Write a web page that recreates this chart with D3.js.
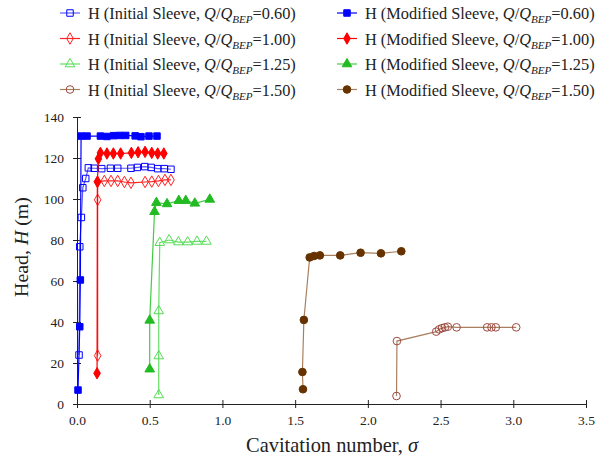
<!DOCTYPE html>
<html>
<head>
<meta charset="utf-8">
<script src="https://cdn.jsdelivr.net/npm/d3@7"></script>
<style>
  body { margin: 0; background: #fff; }
</style>
</head>
<body>
<div id="chart"></div>
<script>
// data (sigma, head in m)
var blueInitSigma = [0.014, 0.019, 0.030, 0.040, 0.060, 0.078, 0.118, 0.170, 0.230, 0.280, 0.371, 0.415, 0.466, 0.510, 0.555, 0.600, 0.646]
var blueInitH     = [23.9, 76.7, 91.0, 105.5, 110.0, 115.2, 115.0, 114.8, 115.0, 115.0, 115.0, 115.4, 115.8, 115.4, 114.8, 114.8, 114.5]
var blueModSigma  = [0.007, 0.019, 0.023, 0.028, 0.069, 0.161, 0.206, 0.252, 0.294, 0.335, 0.400, 0.440, 0.495, 0.550]
var blueModH      = [6.8, 37.7, 60.5, 130.7, 130.7, 130.7, 130.5, 130.9, 131.0, 131.0, 130.8, 130.4, 130.7, 130.7]
var redInitSigma  = [0.142, 0.142, 0.142, 0.188, 0.234, 0.280, 0.326, 0.371, 0.468, 0.514, 0.560, 0.605, 0.646]
var redInitH      = [23.6, 99.6, 108.4, 108.8, 108.8, 108.8, 108.3, 107.9, 108.3, 108.5, 108.8, 109.3, 109.3]
var redModSigma   = [0.138, 0.140, 0.147, 0.161, 0.206, 0.250, 0.300, 0.374, 0.420, 0.468, 0.514, 0.555, 0.597]
var redModH       = [15.0, 108.4, 119.6, 122.5, 122.2, 122.2, 122.2, 122.5, 122.8, 123.0, 122.5, 122.2, 122.2]
var greenInitSigma = [0.562, 0.562, 0.562, 0.569, 0.633, 0.697, 0.761, 0.825, 0.890]
var greenInitH     = [4.4, 23.4, 45.4, 78.7, 80.0, 79.0, 79.0, 79.3, 79.3]
var greenModSigma  = [0.500, 0.500, 0.533, 0.546, 0.619, 0.700, 0.748, 0.810, 0.913]
var greenModH      = [17.0, 40.8, 93.8, 98.2, 97.6, 99.2, 99.2, 97.9, 99.8]
var brownInitSigma = [2.197, 2.200, 2.470, 2.490, 2.510, 2.530, 2.550, 2.610, 2.820, 2.850, 2.880, 3.020]
var brownInitH     = [3.9, 30.7, 35.3, 36.4, 37.0, 37.4, 37.7, 37.4, 37.4, 37.4, 37.4, 37.4]
var brownModSigma  = [1.554, 1.550, 1.560, 1.600, 1.630, 1.670, 1.810, 1.950, 2.090, 2.230]
var brownModH      = [7.2, 15.6, 41.0, 71.5, 72.2, 72.5, 72.5, 73.8, 73.5, 74.5]

var xTicks = [0, 0.5, 1.0, 1.5, 2.0, 2.5, 3.0, 3.5]
var yTicks = [0, 20, 40, 60, 80, 100, 120, 140]

var series = [
    {ratio: "0.60", kind: "Initial", sig: blueInitSigma, h: blueInitH, shape: "square", fill: false, color: "#0000ff", line: "#5a5aff"},
    {ratio: "0.60", kind: "Modified", sig: blueModSigma, h: blueModH, shape: "square", fill: true, color: "#0000ff", line: "#0000ff"},
    {ratio: "1.00", kind: "Initial", sig: redInitSigma, h: redInitH, shape: "diamond", fill: false, color: "#ff2020", line: "#ff2020"},
    {ratio: "1.00", kind: "Modified", sig: redModSigma, h: redModH, shape: "diamond", fill: true, color: "#ff0000", line: "#ff0000"},
    {ratio: "1.25", kind: "Initial", sig: greenInitSigma, h: greenInitH, shape: "triangle", fill: false, color: "#55dd55", line: "#66dd66"},
    {ratio: "1.25", kind: "Modified", sig: greenModSigma, h: greenModH, shape: "triangle", fill: true, color: "#22bb22", line: "#44cc44"},
    {ratio: "1.50", kind: "Initial", sig: brownInitSigma, h: brownInitH, shape: "circle", fill: false, color: "#a04a40", line: "#a88060"},
    {ratio: "1.50", kind: "Modified", sig: brownModSigma, h: brownModH, shape: "circle", fill: true, color: "#663300", line: "#a88060"}
]

var FONT = "'Liberation Serif', 'DejaVu Serif', serif"

var width = 608, height = 461
var margin = {top: 117, right: 22, bottom: 57, left: 77}
var w = width - margin.left - margin.right
var h = height - margin.top - margin.bottom

var svg = d3.select("#chart").append("svg")
    .attr("width", width)
    .attr("height", height)

// shrink/grow a text so it takes the given width
function fitWidth(sel, target) {
    var node = sel.node()
    var size = parseFloat(sel.style("font-size"))
    var len = node.getComputedTextLength()
    if (len > 0) sel.style("font-size", (size * target / len).toFixed(2) + "px")
}

var g = svg.append("g")
    .attr("transform", "translate(" + margin.left + "," + margin.top + ")")

var x = d3.scaleLinear().domain([0, 3.5]).range([0, w])
var y = d3.scaleLinear().domain([0, 140]).range([h, 0])

// axes, ticks cross the axis line
var xAxis = g.append("g").attr("transform", "translate(0," + h + ")")
    .call(d3.axisBottom(x).tickValues(xTicks).tickFormat(d3.format(".1f")).tickSize(4).tickSizeOuter(0))
xAxis.selectAll(".tick line").attr("y1", -4).attr("y2", 4)
xAxis.selectAll("text").attr("y", 9).attr("dy", "0.9em")

var yAxis = g.append("g")
    .call(d3.axisLeft(y).tickValues(yTicks).tickSize(4).tickSizeOuter(0))
yAxis.selectAll(".tick line").attr("x1", -4).attr("x2", 4)
yAxis.selectAll("text").attr("x", -13)

g.selectAll(".domain").attr("stroke", "#222")
g.selectAll(".tick line").attr("stroke", "#222")
g.selectAll(".tick text").attr("fill", "#222").style("font-family", FONT).style("font-size", "13.5px")

svg.append("text")
    .attr("x", 332).attr("y", 452)
    .attr("text-anchor", "middle")
    .style("font-family", FONT).style("font-size", "18px").attr("fill", "#222")
    .html('Cavitation number, <tspan font-style="italic">σ</tspan>')
    .call(fitWidth, 172)

svg.append("text")
    .attr("transform", "translate(28,247) rotate(-90)")
    .attr("text-anchor", "middle")
    .style("font-family", FONT).style("font-size", "18px").attr("fill", "#222")
    .html('Head, <tspan font-style="italic">H</tspan> (m)')
    .call(fitWidth, 100)

var symbols = {square: d3.symbolSquare, diamond: d3.symbolDiamond, triangle: d3.symbolTriangle, circle: d3.symbolCircle}
var sizes = {square: 42, diamond: 38, triangle: 40, circle: 46}

function drawMarker(sel, s) {
    sel.attr("d", d3.symbol().type(symbols[s.shape]).size(sizes[s.shape]))
        .attr("fill", s.fill ? s.color : "none")
        .attr("stroke", s.color)
        .attr("stroke-width", 1)
}

var line = d3.line().x(function(d){ return x(d[0]) }).y(function(d){ return y(d[1]) })

series.forEach(function(s){
    var pts = s.sig.map(function(v, i){ return [v, s.h[i]] })
    g.append("path").datum(pts)
        .attr("d", line)
        .attr("fill", "none")
        .attr("stroke", s.line)
        .attr("stroke-width", 1.2)
    g.selectAll(null).data(pts).enter()
        .append("path")
        .attr("transform", function(d){ return "translate(" + x(d[0]) + "," + y(d[1]) + ")" })
        .call(drawMarker, s)
})

// legend: two columns, initial left, modified right
var legend = svg.append("g")
var legendSize = null
series.forEach(function(s, i){
    var col = s.kind == "Initial" ? 0 : 1
    var row = Math.floor(i / 2)
    var lx = col == 0 ? 60 : 337
    var ly = 13 + row * 25.5
    var item = legend.append("g").attr("transform", "translate(" + lx + "," + ly + ")")
    item.append("line").attr("x1", 0).attr("x2", 20).attr("y1", 0).attr("y2", 0)
        .attr("stroke", s.line).attr("stroke-width", 1.2)
    item.append("path").attr("transform", "translate(10,0)").call(drawMarker, s)
    var t = item.append("text").attr("x", 28).attr("y", 6)
        .style("font-family", FONT).style("font-size", "16px").attr("fill", "#222")
        .html('H (' + s.kind + ' Sleeve, <tspan font-style="italic">Q</tspan>/<tspan font-style="italic">Q</tspan><tspan font-style="italic" font-size="0.68em" dy="4">BEP</tspan><tspan dy="-4">=' + s.ratio + ')</tspan>')
    // size from the first label, same size for all
    if (legendSize == null) { t.call(fitWidth, 208); legendSize = t.style("font-size") }
    else t.style("font-size", legendSize)
})
</script>
</body>
</html>
